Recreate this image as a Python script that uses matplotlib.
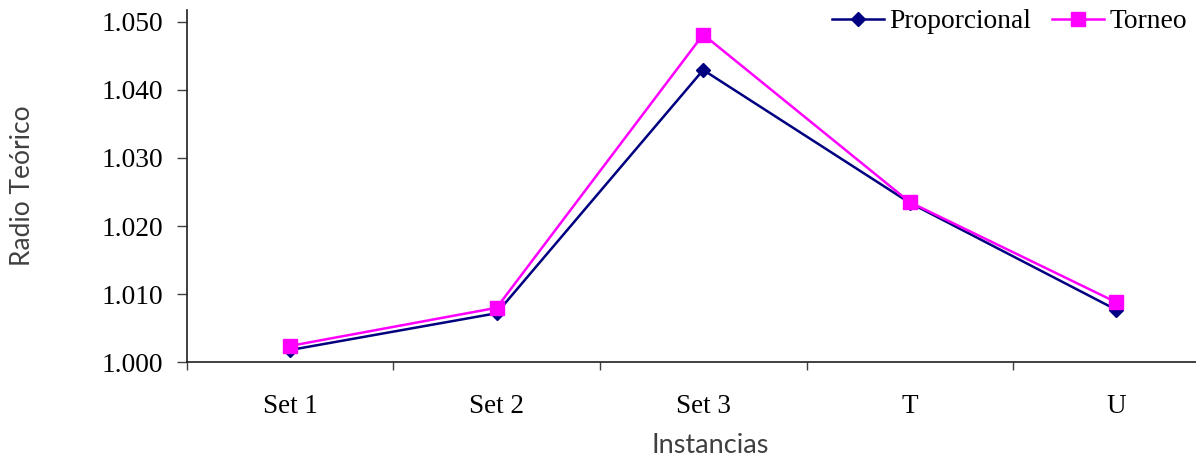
import matplotlib
matplotlib.use("Agg")
import matplotlib.pyplot as plt
import numpy as np

# Valores del radio teórico por instancia
instancias = ["Set 1", "Set 2", "Set 3", "T", "U"]
proporcional = [1.0018, 1.0072, 1.0429, 1.0234, 1.0077]
torneo = [1.0024, 1.0080, 1.0481, 1.0235, 1.0088]
yticks = [1.000, 1.010, 1.020, 1.030, 1.040, 1.050]

serif = "Liberation Serif"
sans = "Lato"

W, H = 1196, 457
fig = plt.figure(figsize=(W / 100, H / 100), dpi=100)

# área de trazado en píxeles (se sale un poco por la derecha)
left, right, top, bottom = 186.7, 1219.7, 10.0, 362.3
ax = fig.add_axes([left / W, 1 - bottom / H, (right - left) / W, (bottom - top) / H])

x = np.arange(len(instancias))
ax.plot(x, proporcional, color="#000080", lw=1.8, marker="D", ms=6.8,
        label="Proporcional", zorder=3)
ax.plot(x, torneo, color="#FF00FF", lw=1.8, marker="s", ms=10,
        label="Torneo", zorder=4)

ax.set_xlim(-0.5, len(instancias) - 0.5)
ax.set_ylim(1.000, 1.0517)

ax.set_yticks(yticks)
ax.set_yticklabels([f"{v:.3f}" for v in yticks], fontfamily=serif, fontsize=19.8)

# marcas del eje x entre categorías, etiquetas centradas
ax.set_xticks(np.arange(-0.5, len(instancias), 1.0))
ax.set_xticklabels([])
ax.set_xticks(x, minor=True)
ax.set_xticklabels(instancias, minor=True, fontfamily=serif, fontsize=19.5)
ax.tick_params(axis="x", which="minor", length=0, pad=23)
ax.tick_params(axis="x", which="major", length=6, width=1, color="#404040")
ax.tick_params(axis="y", length=7, width=1, color="#404040", pad=10)

for s in ["top", "right"]:
    ax.spines[s].set_visible(False)
for s in ["left", "bottom"]:
    ax.spines[s].set_color("#202020")
    ax.spines[s].set_linewidth(1.2)

ax.set_xlabel("Instancias", fontfamily=sans, fontsize=19.5, color="#404040")
ax.set_ylabel("Radio Teórico", fontfamily=sans, fontsize=19, color="#404040", labelpad=48)
ax.xaxis.set_label_coords((710 - left) / (right - left), -0.2)

fig.legend(loc="upper right", bbox_to_anchor=(1187 / W, 1 - 9 / H), ncol=2,
           frameon=False, prop={"family": serif, "size": 19.8}, handlelength=1.9,
           handletextpad=0.18, columnspacing=0.76, borderpad=0, borderaxespad=0)

fig.savefig("out.png", dpi=100, facecolor="white")
